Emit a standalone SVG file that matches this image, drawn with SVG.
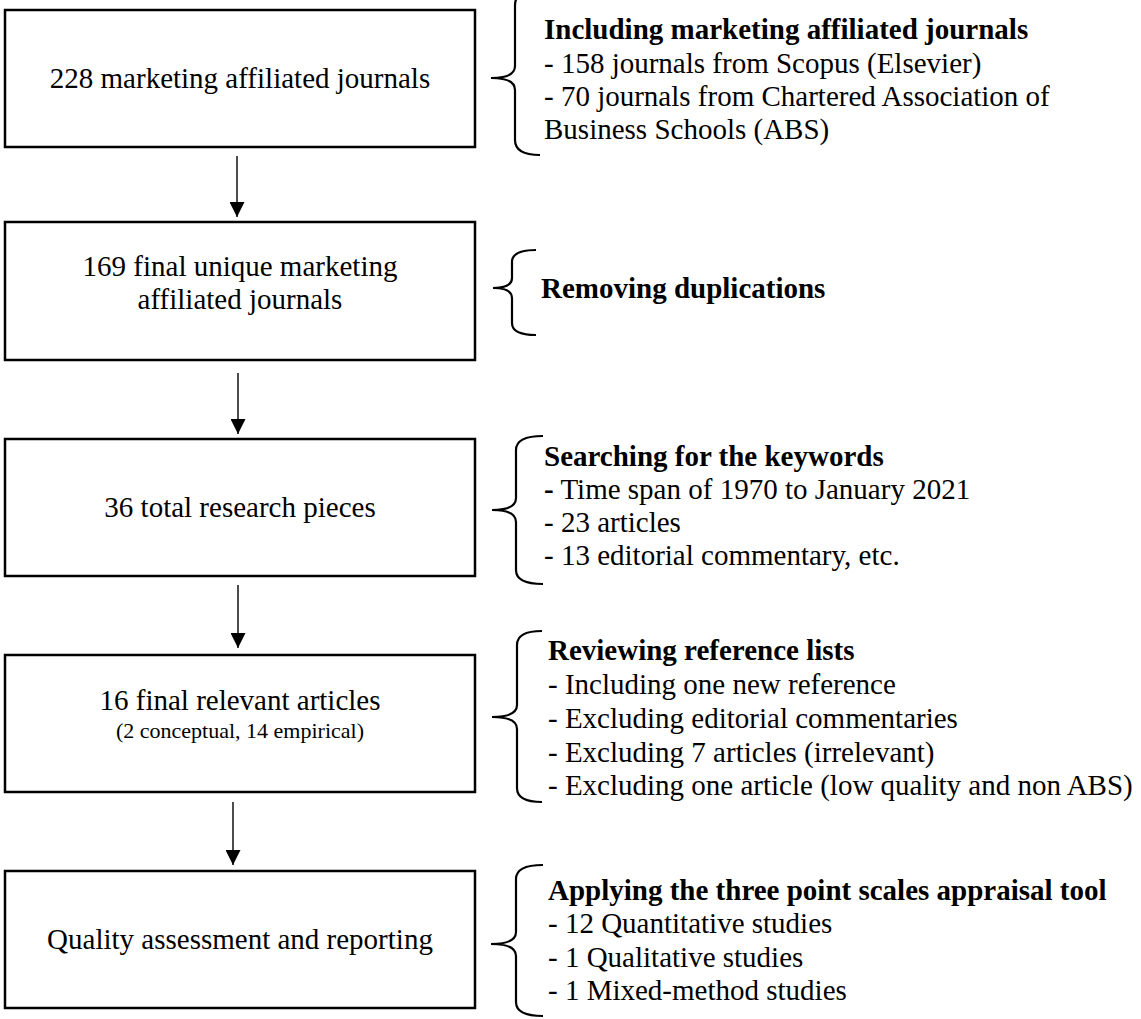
<svg xmlns="http://www.w3.org/2000/svg" width="1141" height="1019" viewBox="0 0 1141 1019">
<style>
.box{fill:#fff;stroke:#000;stroke-width:2.5}
.t{font-family:"Liberation Serif","Times New Roman",serif;font-size:29px;fill:#000}
.c{text-anchor:middle}
.s{font-size:22px}
.b{font-weight:bold}
.brace{fill:none;stroke:#000;stroke-width:2.2}
.arr{stroke:#000;stroke-width:1.4;fill:none}
</style>
<defs>
<marker id="ah" viewBox="0 0 15 15" refX="15" refY="7.5" markerWidth="15" markerHeight="15" markerUnits="userSpaceOnUse" orient="auto">
<path d="M0,0 L15,7.5 L0,15 z" fill="#000"/>
</marker>
</defs>
<rect width="1141" height="1019" fill="#fff"/>
<g id="connectors">
<line class="arr" x1="237" y1="156" x2="237" y2="217" marker-end="url(#ah)"/>
<line class="arr" x1="238" y1="373" x2="238" y2="434" marker-end="url(#ah)"/>
<line class="arr" x1="238" y1="585" x2="238" y2="648" marker-end="url(#ah)"/>
<line class="arr" x1="233" y1="802" x2="233" y2="865" marker-end="url(#ah)"/>
</g>
<g id="node1">
<rect class="box" x="5" y="10" width="470" height="137"/>
<text class="t c" x="240" y="88">228 marketing affiliated journals</text>
</g>
<g id="note1">
<path class="brace" d="M540,-10 Q515,-10 515,5 L515,66 Q515,78 491,78 Q515,78 515,90 L515,140 Q515,155 540,155"/>
<text class="t" x="544" y="39"><tspan class="b">Including marketing affiliated journals</tspan></text>
<text class="t" x="544" y="73">- 158 journals from Scopus (Elsevier)</text>
<text class="t" x="544" y="106">- 70 journals from Chartered Association of</text>
<text class="t" x="544" y="139">Business Schools (ABS)</text>
</g>
<g id="node2">
<rect class="box" x="5" y="222" width="470" height="138"/>
<text class="t c" x="240" y="276">169 final unique marketing</text>
<text class="t c" x="240" y="309">affiliated journals</text>
</g>
<g id="note2">
<path class="brace" d="M536,250 Q512,250 512,262 L512,278 Q512,288 493,288 Q512,288 512,298 L512,323 Q512,335 536,335"/>
<text class="t b" x="541" y="298">Removing duplications</text>
</g>
<g id="node3">
<rect class="box" x="5" y="439" width="470" height="137"/>
<text class="t c" x="240" y="517">36 total research pieces</text>
</g>
<g id="note3">
<path class="brace" d="M543,436 Q516,436 516,450 L516,498 Q516,510 492,510 Q516,510 516,522 L516,570 Q516,584 543,584"/>
<text class="t b" x="544" y="466">Searching for the keywords</text>
<text class="t" x="544" y="499"><tspan class="b">-</tspan> Time span of 1970 to January 2021</text>
<text class="t" x="544" y="532">- 23 articles</text>
<text class="t" x="544" y="565">- 13 editorial commentary, etc.</text>
</g>
<g id="node4">
<rect class="box" x="5" y="655" width="470" height="137"/>
<text class="t c" x="240" y="710">16 final relevant articles</text>
<text class="t c s" x="240" y="738">(2 conceptual, 14 empirical)</text>
</g>
<g id="note4">
<path class="brace" d="M542,631 Q517,631 517,645 L517,705 Q517,717 492,717 Q517,717 517,729 L517,788 Q517,802 542,802"/>
<text class="t b" x="548" y="660">Reviewing reference lists</text>
<text class="t" x="548" y="694">- Including one new reference</text>
<text class="t" x="548" y="728">- Excluding editorial commentaries</text>
<text class="t" x="548" y="762">- Excluding 7 articles (irrelevant)</text>
<text class="t" x="548" y="795">- Excluding one article (low quality and non ABS)</text>
</g>
<g id="node5">
<rect class="box" x="5" y="871" width="470" height="137"/>
<text class="t c" x="240" y="949">Quality assessment and reporting</text>
</g>
<g id="note5">
<path class="brace" d="M543,865 Q516,865 516,879 L516,932 Q516,944 491,944 Q516,944 516,956 L516,1002 Q516,1016 543,1016"/>
<text class="t b" x="548" y="900">Applying the three point scales appraisal tool</text>
<text class="t" x="548" y="933">- 12 Quantitative studies</text>
<text class="t" x="548" y="967">- 1 Qualitative studies</text>
<text class="t" x="548" y="1000">- 1 Mixed-method studies</text>
</g>
</svg>
